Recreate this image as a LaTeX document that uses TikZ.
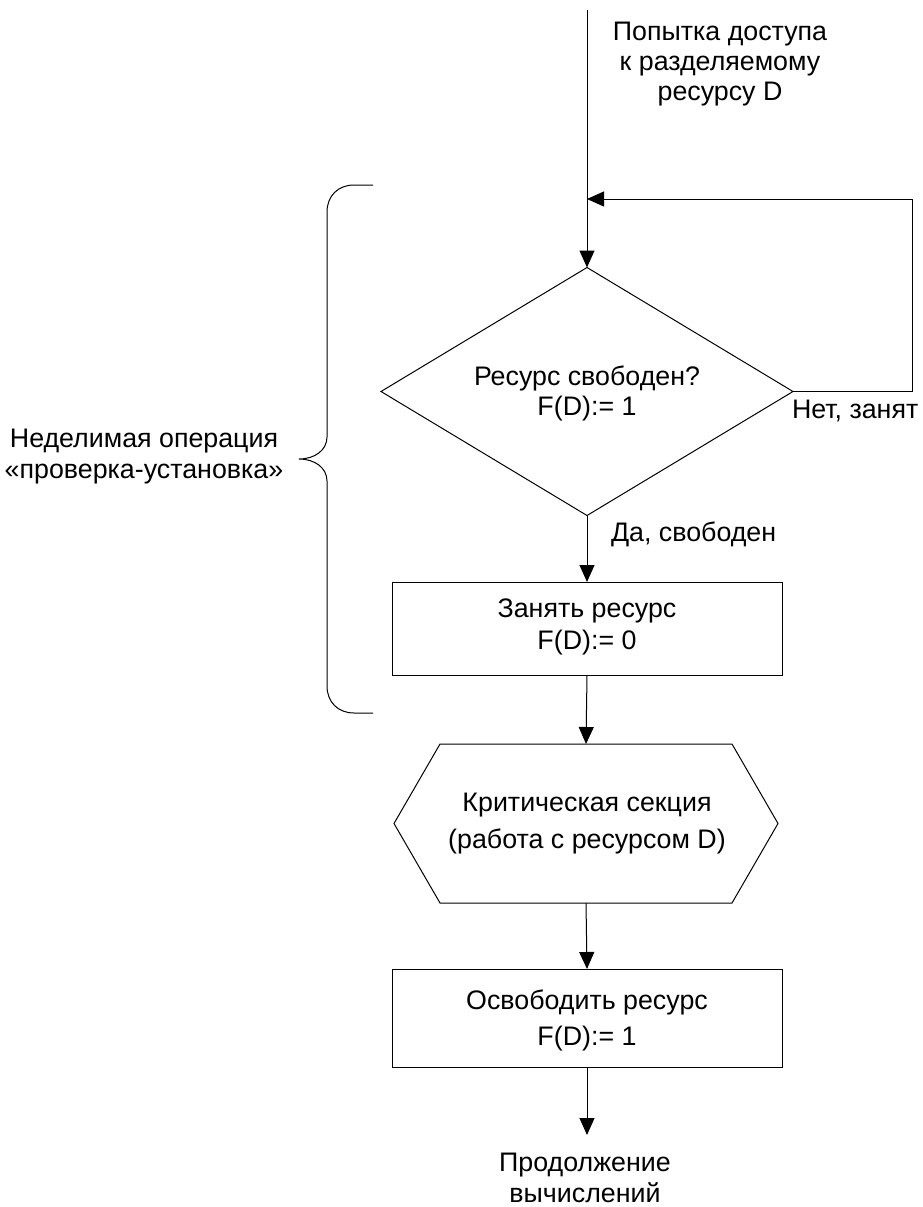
\documentclass[tikz,border=0pt]{standalone}
\usepackage{fontspec}
\setmainfont{Liberation Sans}
\usetikzlibrary{shapes.geometric,arrows.meta,calc}

\begin{document}
\begin{tikzpicture}[x=1pt,y=-1pt,
  every node/.style={font=\fontsize{26.8}{33}\selectfont, align=center},
  line/.style={line width=1pt},
  flow/.style={line width=1pt, -{Triangle[length=17pt,width=15pt]}},
  procbox/.style={draw, line width=1pt, minimum width=390pt, inner sep=0pt, outer sep=0pt},
  decision/.style={draw, diamond, line width=1pt, aspect=1.66, minimum width=412pt,
    minimum height=248pt, inner sep=0pt, outer sep=0pt},
  plain/.style={inner sep=0pt, outer sep=0pt}]
\useasboundingbox (0,0) rectangle (922,1207);

% entry and merge point of the retry loop
\coordinate (entry) at (587,10);
\coordinate (merge) at (587,199);
\node[plain, font=\fontsize{26.8}{30}\selectfont] (request) at (720,64)
  {Попытка доступа\\к разделяемому\\ресурсу D};

% test of the flag
\node[decision] (check) at (587,391.5) {};
\node[plain, font=\fontsize{26.8}{30}\selectfont] (checktext) at (587,393)
  {Ресурс свободен?\\F(D):= 1};

% occupy the resource
\node[procbox, minimum height=93pt] (take) at (587,628.5) {};
\node[plain, font=\fontsize{26.8}{32}\selectfont] (taketext) at (587,627)
  {Занять ресурс\\F(D):= 0};

% critical section (hexagon)
\node[plain, minimum width=384pt, minimum height=159pt] (crit) at (586,823.5) {};
\draw[line] (crit.west) -- ($(crit.north west)+(46,0)$) -- ($(crit.north east)+(-46,0)$)
  -- (crit.east) -- ($(crit.south east)+(-46,0)$) -- ($(crit.south west)+(46,0)$) -- cycle;
\node[plain, font=\fontsize{26.8}{37}\selectfont] (crittext) at (587,824)
  {Критическая секция\\(работа с ресурсом D)};

% release the resource
\node[procbox, minimum height=98pt] (release) at (587,1018) {};
\node[plain, font=\fontsize{26.8}{36}\selectfont] (releasetext) at (587,1020)
  {Освободить ресурс\\F(D):= 1};

% continuation
\coordinate (finish) at (587,1135);
\node[plain, font=\fontsize{26.8}{31}\selectfont] (cont) at (585,1178)
  {Продолжение\\вычислений};

% branch labels
\node[plain, anchor=west] (busy) at (792,411) {Нет, занят};
\node[plain, anchor=west] (free) at (611,534) {Да, свободен};

% flow lines
\draw[flow] (entry) -- (check.north);
\coordinate (loopcorner) at (912,199);
\draw[flow] (check.east) -| (loopcorner) -- (merge);
\draw[flow] (check.south) -- (take.north);
\draw[flow] (take.south) -- (crit.north);
\draw[flow] (crit.south) -- (release.north);
\draw[flow] (release.south) -- (finish);

% brace marking the atomic test-and-set operation
\draw[line] (373,185) -- (354,185) .. controls (338,185) and (327,196) .. (327,212)
  -- (327,437) .. controls (327,450) and (315,459) .. (299,459)
  .. controls (315,459) and (327,468) .. (327,481)
  -- (327,686) .. controls (327,702) and (338,713) .. (354,713) -- (373,713);
\node[plain, font=\fontsize{26.8}{31}\selectfont] (atomic) at (144,457)
  {Неделимая операция\\«проверка-установка»};
\end{tikzpicture}
\end{document}
